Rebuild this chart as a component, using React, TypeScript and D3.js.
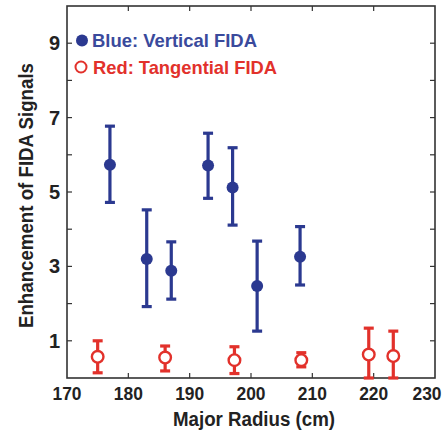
import React from "react";
import * as d3 from "d3";

// Vertical FIDA (blue, filled)
const blueRadius = [177, 183, 187, 193, 197, 201, 208];
const blueValue = [5.73, 3.2, 2.88, 5.71, 5.12, 2.47, 3.26];
const blueLow = [4.72, 1.92, 2.12, 4.83, 4.11, 1.26, 2.5];
const blueHigh = [6.77, 4.52, 3.66, 6.58, 6.19, 3.68, 4.07];

// Tangential FIDA (red, open)
const redRadius = [175, 186, 197.3, 208.2, 219.2, 223.2];
const redValue = [0.57, 0.55, 0.48, 0.48, 0.63, 0.59];
const redLow = [0.14, 0.19, 0.12, 0.3, 0, 0];
const redHigh = [1.0, 0.86, 0.84, 0.68, 1.34, 1.26];

const xTicks = [170, 180, 190, 200, 210, 220, 230];
const yTicks = [1, 2, 3, 4, 5, 6, 7, 8, 9];
const yLabels = [1, 3, 5, 7, 9];

const BLUE = "#2b3990";
const RED = "#e2312b";
const FONT = "'Liberation Sans', Arial, sans-serif";

const W = 448;
const H = 437;
const margin = { top: 6, right: 13, bottom: 59, left: 67 };

export default function App() {
  const x = d3.scaleLinear().domain([170, 230]).range([margin.left, W - margin.right]);
  const y = d3.scaleLinear().domain([0, 10]).range([H - margin.bottom, margin.top]);
  const [x0, x1] = x.range();
  const [y0, y1] = y.range();
  const tick = 5;
  const cap = 5;

  const errorBar = (xv: number, lo: number, hi: number, color: string, key: string) => (
    <g key={key} stroke={color} strokeWidth={3.2}>
      <line x1={x(xv)} x2={x(xv)} y1={y(lo)} y2={y(hi)} />
      <line x1={x(xv) - cap} x2={x(xv) + cap} y1={y(hi)} y2={y(hi)} />
      <line x1={x(xv) - cap} x2={x(xv) + cap} y1={y(lo)} y2={y(lo)} />
    </g>
  );

  return (
    <svg
      width={W}
      height={H}
      style={{ position: "absolute", left: 0, top: 0, background: "#fff" }}
      fontFamily={FONT}
      fontWeight="bold"
    >
      {/* ticks */}
      <g stroke="#333" strokeWidth={1.2}>
        {xTicks.slice(1, -1).map(t => (
          <g key={"xt" + t}>
            <line x1={x(t)} x2={x(t)} y1={y0} y2={y0 - tick} />
            <line x1={x(t)} x2={x(t)} y1={y1} y2={y1 + tick} />
          </g>
        ))}
        {yTicks.map(t => (
          <g key={"yt" + t}>
            <line x1={x0} x2={x0 + tick} y1={y(t)} y2={y(t)} />
            <line x1={x1} x2={x1 - tick} y1={y(t)} y2={y(t)} />
          </g>
        ))}
      </g>
      <rect x={x0} y={y1} width={x1 - x0} height={y0 - y1} fill="none" stroke="#333" strokeWidth={1.6} />

      {/* tick labels (last one nudged in so it stays on the page) */}
      {xTicks.map(t => (
        <text key={"xl" + t} x={Math.min(x(t), W - 21)} y={400} textAnchor="middle" fontSize={19} fill="#222"
          textLength={29} lengthAdjust="spacingAndGlyphs">
          {t}
        </text>
      ))}
      {yLabels.map(t => (
        <text key={"yl" + t} x={60} y={y(t) + 7} textAnchor="end" fontSize={20} fill="#222">
          {t}
        </text>
      ))}

      {/* axis titles */}
      <text x={254} y={426} textAnchor="middle" fontSize={20} fill="#222"
        textLength={162} lengthAdjust="spacingAndGlyphs">
        Major Radius (cm)
      </text>
      <text transform={`translate(33,${(63 + 328) / 2}) rotate(-90)`} textAnchor="middle" fontSize={20} fill="#222"
        textLength={265} lengthAdjust="spacingAndGlyphs">
        Enhancement of FIDA Signals
      </text>

      {/* data */}
      {blueRadius.map((r, i) => errorBar(r, blueLow[i], blueHigh[i], BLUE, "be" + i))}
      {blueRadius.map((r, i) => (
        <circle key={"bp" + i} cx={x(r)} cy={y(blueValue[i])} r={6} fill={BLUE} />
      ))}
      {redRadius.map((r, i) => errorBar(r, redLow[i], redHigh[i], RED, "re" + i))}
      {redRadius.map((r, i) => (
        <circle key={"rp" + i} cx={x(r)} cy={y(redValue[i])} r={5.8} fill="#fff" stroke={RED} strokeWidth={2.4} />
      ))}

      {/* legend */}
      <circle cx={82} cy={40.5} r={6} fill={BLUE} />
      <text x={92} y={47} fontSize={19} fill="#3a4a9c" textLength={165} lengthAdjust="spacingAndGlyphs">
        Blue: Vertical FIDA
      </text>
      <circle cx={81} cy={67} r={5.5} fill="none" stroke={RED} strokeWidth={2} />
      <text x={93} y={73.5} fontSize={19} fill={RED} textLength={184} lengthAdjust="spacingAndGlyphs">
        Red: Tangential FIDA
      </text>
    </svg>
  );
}
